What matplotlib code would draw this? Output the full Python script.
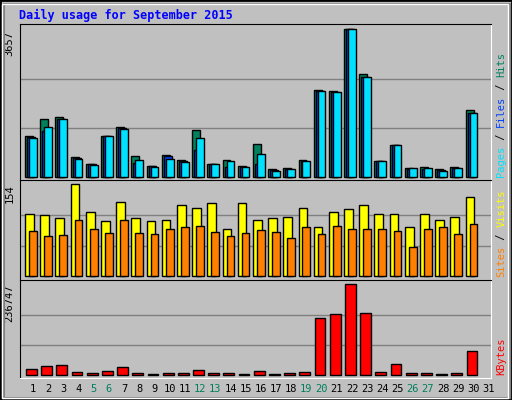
import matplotlib
matplotlib.use("Agg")
import matplotlib.pyplot as plt
from matplotlib.patches import Rectangle

days = list(range(1, 32))
hits = [1009,1448,1490,488,331,1009,1249,513,265,538,430,1175,331,430,265,828,190,215,414,2152,2127,3657,2548,389,803,215,240,190,240,1655,0]
files = [1000,1129,1448,480,320,1009,1220,339,260,510,400,662,331,240,255,311,170,200,400,2130,2110,3657,2480,389,803,210,210,170,220,1580,0]
pages = [976,1249,1448,455,306,1009,1183,414,240,455,364,960,331,389,240,563,157,190,389,2127,2102,3657,2474,389,803,215,215,157,215,1580,0]
visits = [105,102,97,154,107,92,124,97,92,95,120,114,122,80,122,95,97,99,115,82,107,112,120,105,104,82,105,94,99,132,0]
sites = [75,67,69,95,80,72,95,72,70,80,82,85,74,67,72,77,74,64,82,70,85,80,79,80,75,49,79,82,70,87,0]
kbytes = [15610,23410,26020,7800,5200,10410,20810,5200,2600,5200,5200,13010,5200,5200,2600,10410,2600,5200,7800,148290,158700,236747,161300,7800,28620,5200,5200,2600,5200,62440,0]
weekend = [5, 6, 12, 13, 19, 20, 26, 27]

BG = "#C0C0C0"
W, H = 512, 400
fig = plt.figure(figsize=(5.12, 4.0), dpi=100, facecolor=BG)
fig.patches.append(Rectangle((0, 0), 1, 1, transform=fig.transFigure, fill=False, edgecolor="black", lw=2))
fig.patches.append(Rectangle((2/W, 2/H), 1-6/W, 1-6/H, transform=fig.transFigure, fill=False, edgecolor="white", lw=1))
fig.patches.append(Rectangle((4/W, 2/H), 1-6/W, 1-6/H, transform=fig.transFigure, fill=False, edgecolor="#808080", lw=1.5, zorder=0))

def mkax(top, bottom):
    ax = fig.add_axes([20/W, 1-bottom/H, (491-20)/W, (bottom-top)/H])
    ax.set_facecolor(BG)
    ax.set_xlim(0.145, 31.15)
    ax.set_xticks([]); ax.set_yticks([])
    for s in ["top", "left"]:
        ax.spines[s].set_color("black")
    for s in ["bottom", "right"]:
        ax.spines[s].set_color("white")
    return ax

def nz(vals, off):
    xs = [d + off for d, v in zip(days, vals) if v > 0]
    return xs, [v for v in vals if v > 0]

mono = "DejaVu Sans Mono"
kw = dict(edgecolor="black", linewidth=1, align="edge")

ax1 = mkax(24.3, 180.3)
ax1.set_ylim(-82, 3781)
for g in (3657/3, 3657*2/3):
    ax1.axhline(g, color="#808080", lw=1, zorder=0)
ax1.bar(*nz(hits, -0.52), width=0.52, color="#00805C", **kw)
ax1.bar(*nz(files, -0.39), width=0.52, color="#0040FF", **kw)
ax1.bar(*nz(pages, -0.26), width=0.51, color="#00E0FF", **kw)

ax2 = mkax(180.3, 280.3)
ax2.set_ylim(-6.7, 160.7)
for g in (154/3, 154*2/3):
    ax2.axhline(g, color="#808080", lw=1, zorder=0)
ax2.bar(*nz(visits, -0.52), width=0.57, color="#FFFF00", **kw)
ax2.bar(*nz(sites, -0.26), width=0.51, color="#FF8000", **kw)

ax3 = mkax(280.3, 377.7)
ax3.set_ylim(-6240, 247150)
for g in (236747/3, 236747*2/3):
    ax3.axhline(g, color="#808080", lw=1, zorder=0)
ax3.bar(*nz(kbytes, -0.46), width=0.71, color="#FF0000", **kw)

fig.text(19/W, 1-15/H, "Daily usage for September 2015", color="#0000FF",
         fontsize=8.5, fontweight="bold", family=mono, va="center")

for ax, lab in ((ax1, "3657"), (ax2, "154"), (ax3, "236747")):
    ax.text(-0.022, 0.96, lab, transform=ax.transAxes, rotation=90, ha="center",
            va="top", fontsize=7.5, family=mono)

CH = 6.25  # px per char
def rlabel(ax, parts):
    hpx = ax.get_position().height * H
    n = 0
    for txt, col in parts:
        ax.text(1.022, (3 + n * CH) / hpx, txt, transform=ax.transAxes, rotation=90,
                ha="center", va="bottom", fontsize=7.5, family=mono, color=col)
        n += len(txt)
rlabel(ax1, [("Pages", "#00E0FF"), (" / ", "#000000"), ("Files", "#0040FF"), (" / ", "#000000"), ("Hits", "#00805C")])
rlabel(ax2, [("Sites", "#FF8000"), (" / ", "#000000"), ("Visits", "#FFFF00")])
rlabel(ax3, [("KBytes", "#FF0000")])

for d in days:
    fig.text((20 + (d - 0.145) * 471 / 31.005) / W, 1 - 389/H, str(d), ha="center", va="center",
             fontsize=7.5, family=mono, color="#00805C" if d in weekend else "black")

fig.savefig("out.png", dpi=100, facecolor=BG)
